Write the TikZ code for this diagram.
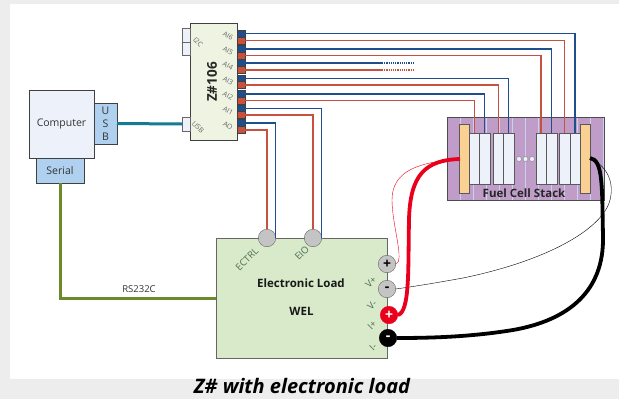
\documentclass[tikz,border=0pt]{standalone}
\usepackage{fontspec}
\setmainfont{Open Sans}
\usepackage{xcolor}
\usetikzlibrary{positioning}
\definecolor{wireblue}{HTML}{1F4E8C}
\definecolor{wirered}{HTML}{C8503F}
\definecolor{paleblue}{HTML}{EDF1FA}
\definecolor{tabblue}{HTML}{AFD0EE}
\definecolor{boardgreen}{HTML}{EEF3E2}
\definecolor{loadgreen}{HTML}{D9EACB}
\definecolor{stackpurple}{HTML}{BF9DC8}
\definecolor{stackgrid}{HTML}{C8D2EC}
\definecolor{platetan}{HTML}{FAD193}
\definecolor{pingray}{HTML}{C4C4C4}
\definecolor{powerred}{HTML}{E8001C}
\definecolor{usbteal}{HTML}{137B93}
\definecolor{serialolive}{HTML}{6B8A2A}
\definecolor{labelgreen}{HTML}{4F6B52}
\tikzset{
    box/.style={draw=black!75, rectangle, inner sep=0pt, outer sep=0pt},
    portblue/.style={box, fill=wireblue, minimum width=8pt, minimum height=7pt},
    portred/.style={box, fill=wirered, minimum width=8pt, minimum height=7pt},
    tabbox/.style={box, draw=black!60, fill=paleblue, minimum width=8pt},
    cellbox/.style={box, draw=black!65, fill=paleblue, minimum height=51.5pt},
    platebox/.style={box, draw=black!65, fill=platetan, minimum width=10pt, minimum height=69pt},
    pin/.style={circle, draw=black!60, fill=pingray, minimum size=17.5pt, inner sep=0pt, outer sep=0pt, font=\fontsize{14}{14}\selectfont\bfseries},
    dotpin/.style={circle, draw=black!50, fill=paleblue, minimum size=5pt, inner sep=0pt},
    portlabel/.style={text=black!60, font=\fontsize{7}{7}\selectfont, inner sep=0pt, rotate=-30},
    loadlabel/.style={text=labelgreen, font=\fontsize{9.5}{10}\selectfont, inner sep=0pt, rotate=45},
    bluewire/.style={draw=wireblue, line width=1.2pt},
    redwire/.style={draw=wirered, line width=1.2pt},
}
\begin{document}
\begin{tikzpicture}[x=1pt, y=-1pt]
    % page
    \fill[black!7] (0,0) rectangle (619,399);
    \fill[white] (10,4) rectangle (619,379);

    % computer
    \node[box, fill=paleblue, minimum width=65pt, minimum height=68pt, font=\fontsize{10.5}{11}\selectfont, text=black!80] (computer) at (61.5,124) {Computer};
    \node[box, fill=tabblue, minimum width=23pt, minimum height=41pt, align=center, font=\fontsize{10.5}{13}\selectfont, text=black!80] (usbpc) at (105.5,123.5) {U\\S\\B};
    \node[box, fill=tabblue, minimum width=48pt, minimum height=25pt, font=\fontsize{10.5}{11}\selectfont, text=black!80] (serial) at (60,170.5) {Serial};

    % board
    \node[box, fill=boardgreen, minimum width=47pt, minimum height=117pt] (board) at (213.5,81.5) {};
    \node[tabbox, minimum height=14pt] (tabone) at (186,35) {};
    \node[tabbox, minimum height=13pt] (tabtwo) at (186,48.5) {};
    \node[tabbox, minimum height=14pt] (usbtab) at (186,124) {};
    \node[rotate=90, font=\fontsize{13.5}{14}\selectfont\bfseries, text=black!85, inner sep=0pt] (boardname) at (212,82) {Z\#106};
    \node[portlabel, rotate=-15] (lbltwoc) at (198,42) {I2C};
    \node[portlabel, rotate=-15] (lblusb) at (198,127) {USB};
    \node[portlabel] (lblsix) at (228,36) {AI6};
    \node[portlabel] (lblfive) at (228,50.5) {AI5};
    \node[portlabel] (lblfour) at (228,66) {AI4};
    \node[portlabel] (lblthree) at (228,81) {AI3};
    \node[portlabel] (lbltwo) at (228,96) {AI2};
    \node[portlabel] (lblone) at (228,111) {AI1};
    \node[portlabel] (lblzero) at (228,126) {AO};

    \node[portblue] (sixb) at (241,33.5) {};
    \node[portred] (sixr) at (241,40.5) {};
    \node[portblue] (fiveb) at (241,49) {};
    \node[portred] (fiver) at (241,55.5) {};
    \node[portblue] (fourb) at (241,63) {};
    \node[portred] (fourr) at (241,70) {};
    \node[portblue] (threeb) at (241,78.5) {};
    \node[portred] (threer) at (241,85) {};
    \node[portblue] (twob) at (241,94) {};
    \node[portred] (twor) at (241,100.5) {};
    \node[portblue] (oneb) at (241,108.5) {};
    \node[portred] (oner) at (241,115) {};
    \node[portblue] (zerob) at (241,123) {};
    \node[portred] (zeror) at (241,130) {};

    % fuel cell stack
    \fill[stackpurple] (447,117) rectangle (604,200);
    \draw[stackgrid, line width=1pt, xstep=13, ystep=12.5, shift={(447,117)}] (0,0) grid (157,83);
    \node[box, draw=black!70, line width=0.8pt, minimum width=157pt, minimum height=83pt] (stack) at (525.5,158.5) {};
    \node[platebox] (platel) at (464,158.5) {};
    \node[platebox] (plater) at (585,158.5) {};
    \node[cellbox, minimum width=10.5pt] (cella) at (474.25,158.75) {};
    \node[cellbox, minimum width=10.5pt] (cellb) at (484.75,158.75) {};
    \node[cellbox, minimum width=10pt] (cellc) at (498.5,158.75) {};
    \node[cellbox, minimum width=10.5pt] (celld) at (508.75,158.75) {};
    \node[cellbox, minimum width=10pt] (celle) at (541,158.75) {};
    \node[cellbox, minimum width=11pt] (cellf) at (551.5,158.75) {};
    \node[cellbox, minimum width=10.5pt] (cellg) at (564.75,158.75) {};
    \node[cellbox, minimum width=10pt] (cellh) at (575,158.75) {};
    \node[dotpin] (dota) at (519,159) {};
    \node[dotpin] (dotb) at (525.5,159) {};
    \node[dotpin] (dotc) at (532,159) {};
    \node[font=\fontsize{11.5}{12}\selectfont\bfseries, text=black!85, inner sep=0pt] (stackname) at (524,193) {Fuel Cell Stack};
    \coordinate (pinl) at (460,159);
    \coordinate (pinr) at (590,158);

    % electronic load
    \node[box, draw=black!60, line width=0.8pt, fill=loadgreen, minimum width=171pt, minimum height=120pt] (load) at (301.5,298) {};
    \node[font=\fontsize{11.5}{12}\selectfont\bfseries, text=black!90, inner sep=0pt] (loadname) at (301,283) {Electronic Load};
    \node[font=\fontsize{11.5}{12}\selectfont\bfseries, text=black!90, inner sep=0pt] (loadwel) at (301.5,311) {WEL};
    \node[pin] (ectrl) at (267,238) {};
    \node[pin] (eio) at (313,238) {};
    \node[loadlabel] (lblectrl) at (247,259) {ECTRL};
    \node[loadlabel] (lbleio) at (302,253) {EIO};
    \node[pin] (vplus) at (387,264) {+};
    \node[pin] (vminus) at (387,289) {-};
    \node[pin, draw=powerred, fill=powerred, text=white] (iplus) at (389,315) {+};
    \node[pin, draw=black, fill=black, text=white] (iminus) at (388,338) {-};
    \node[loadlabel] (lblvp) at (371,282) {V+};
    \node[loadlabel] (lblvm) at (372,305) {V-};
    \node[loadlabel] (lblip) at (372,325) {I+};
    \node[loadlabel] (lblim) at (373,347) {I-};

    % signal wires
    \draw[bluewire] (sixb.east) -| (cellh.north);
    \draw[redwire] (sixr.east) -| (cellg.north);
    \draw[bluewire] (fiveb.east) -| (cellf.north);
    \draw[redwire] (fiver.east) -| (celle.north);
    \draw[bluewire] (threeb.east) -| (celld.north);
    \draw[redwire] (threer.east) -| (cellc.north);
    \draw[bluewire] (twob.east) -| (cellb.north);
    \draw[redwire] (twor.east) -| (cella.north);
    \draw[bluewire] (oneb.east) -| (eio.east);
    \draw[redwire] (oner.east) -| (eio.north);
    \draw[bluewire] (zerob.east) -| (ectrl.east);
    \draw[redwire] (zeror.east) -| (ectrl.north);

    \coordinate (fourbmid) at (382,63);
    \coordinate (fourbend) at (415,63);
    \coordinate (fourrmid) at (382,70);
    \coordinate (fourrend) at (415,70);
    \draw[bluewire] (fourb.east) -- (fourbmid);
    \draw[bluewire, densely dotted] (fourbmid) -- (fourbend);
    \draw[redwire] (fourr.east) -- (fourrmid);
    \draw[redwire, densely dotted] (fourrmid) -- (fourrend);

    % usb and serial
    \draw[draw=usbteal, line width=3pt] (usbpc.east) -- (usbtab.west);
    \draw[draw=serialolive, line width=3pt] (serial.south) |- (load.west);
    \node[font=\fontsize{9.5}{10}\selectfont, text=black!80, inner sep=0pt] (rsname) at (139,289) {RS232C};

    % power
    \draw[powerred, line width=0.4pt] (pinl) .. controls (420,162) and (392,170) .. (392,200) .. controls (392,225) and (405,262) .. (vplus.east);
    \draw[black, line width=0.4pt] (pinr) .. controls (605,165) and (615,180) .. (610,200) .. controls (603,228) and (550,260) .. (463,278) .. controls (430,284) and (410,287) .. (vminus.east);
    \draw[powerred, line width=3.8pt] (pinl) .. controls (425,160) and (410,175) .. (409,220) .. controls (408,270) and (410,312) .. (iplus.east);
    \draw[black, line width=3.8pt] (pinr) .. controls (603,160) and (602,185) .. (603,237) .. controls (604,290) and (570,320) .. (513,330) .. controls (470,337) and (430,338) .. (iminus.east);

    \node[font=\fontsize{20}{21}\selectfont\bfseries\itshape, text=black, inner sep=0pt] (caption) at (302,386) {Z\# with electronic load};
\end{tikzpicture}
\end{document}
